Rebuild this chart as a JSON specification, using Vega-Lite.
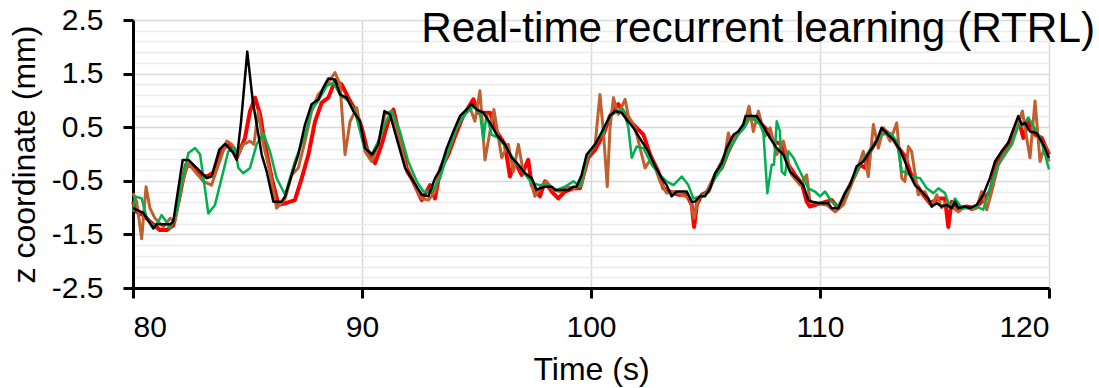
{
  "$schema": "https://vega.github.io/schema/vega-lite/v6.json",
  "width": 916,
  "height": 268,
  "autosize": {"type": "none"},
  "padding": {"left": 133, "top": 20, "right": 50, "bottom": 100},
  "background": "white",
  "config": {"view": {"stroke": null}, "font": "Liberation Sans"},
  "title": {"text": "Real-time recurrent learning (RTRL)", "anchor": "end", "frame": "group", "fontSize": 42.3, "fontWeight": "normal", "color": "black", "dx": 46, "dy": 50},
  "datasets": {
    "red": [
      {"t":80.0,"v":-0.89},{"t":80.16,"v":-1.08},{"t":80.45,"v":-1.14},{"t":80.74,"v":-1.26},{"t":81.18,"v":-1.42},{"t":81.47,"v":-1.42},{"t":81.76,"v":-1.33},{"t":82.05,"v":-0.76},{"t":82.31,"v":-0.2},{"t":82.56,"v":-0.23},{"t":82.93,"v":-0.39},{"t":83.22,"v":-0.42},{"t":83.58,"v":-0.33},{"t":83.87,"v":0.05},{"t":84.16,"v":0.21},{"t":84.53,"v":-0.07},{"t":84.89,"v":0.3},{"t":85.11,"v":0.8},{"t":85.33,"v":1.05},{"t":85.55,"v":0.74},{"t":85.76,"v":0.18},{"t":86.06,"v":-0.45},{"t":86.35,"v":-0.95},{"t":86.64,"v":-0.92},
      {"t":87.07,"v":-0.86},{"t":87.37,"v":-0.45},{"t":87.66,"v":-0.01},{"t":87.95,"v":0.61},{"t":88.24,"v":0.96},{"t":88.53,"v":1.05},{"t":88.82,"v":1.36},{"t":89.11,"v":1.3},{"t":89.4,"v":1.05},{"t":89.69,"v":0.83},{"t":89.99,"v":0.49},{"t":90.28,"v":-0.01},{"t":90.57,"v":-0.17},{"t":90.86,"v":0.18},{"t":91.15,"v":0.61},{"t":91.37,"v":0.83},{"t":91.66,"v":0.3},{"t":91.95,"v":-0.26},{"t":92.31,"v":-0.58},{"t":92.61,"v":-0.86},{"t":92.97,"v":-0.58},{"t":93.19,"v":-0.83},
      {"t":93.41,"v":-0.3},{"t":93.77,"v":-0.01},{"t":94.06,"v":0.33},{"t":94.42,"v":0.71},{"t":94.86,"v":1.02},{"t":95.08,"v":0.77},{"t":95.3,"v":0.77},{"t":95.59,"v":0.77},{"t":95.88,"v":0.42},{"t":96.24,"v":0.18},{"t":96.46,"v":-0.42},{"t":96.68,"v":-0.14},{"t":96.97,"v":-0.39},{"t":97.26,"v":-0.11},{"t":97.41,"v":-0.58},{"t":97.77,"v":-0.79},{"t":97.99,"v":-0.51},{"t":98.28,"v":-0.7},{"t":98.57,"v":-0.83},{"t":98.86,"v":-0.7},{"t":99.23,"v":-0.64},{"t":99.52,"v":-0.64},{"t":99.88,"v":-0.07},
      {"t":100.18,"v":0.08},{"t":100.54,"v":0.36},{"t":100.83,"v":0.71},{"t":101.19,"v":0.93},{"t":101.49,"v":0.74},{"t":101.78,"v":0.58},{"t":102.29,"v":0.36},{"t":102.58,"v":-0.01},{"t":102.94,"v":-0.33},{"t":103.16,"v":-0.64},{"t":103.45,"v":-0.7},{"t":103.81,"v":-0.76},{"t":104.18,"v":-0.76},{"t":104.4,"v":-0.95},{"t":104.5,"v":-1.36},{"t":104.62,"v":-0.95},{"t":104.83,"v":-0.76},{"t":105.12,"v":-0.7},{"t":105.42,"v":-0.39},{"t":105.71,"v":-0.26},{"t":106.0,"v":0.05},{"t":106.36,"v":0.36},{"t":106.65,"v":0.49},{"t":106.94,"v":0.71},
      {"t":107.31,"v":0.61},{"t":107.67,"v":0.46},{"t":107.96,"v":0.24},{"t":108.33,"v":0.18},{"t":108.62,"v":-0.2},{"t":108.91,"v":-0.39},{"t":109.2,"v":-0.54},{"t":109.42,"v":-0.89},{"t":109.56,"v":-0.98},{"t":110.0,"v":-0.92},{"t":110.51,"v":-0.86},{"t":110.8,"v":-1.01},{"t":111.16,"v":-0.7},{"t":111.46,"v":-0.45},{"t":111.75,"v":-0.2},{"t":111.97,"v":-0.26},{"t":112.18,"v":0.05},{"t":112.47,"v":0.24},{"t":112.77,"v":0.46},{"t":113.13,"v":0.33},{"t":113.49,"v":0.08},{"t":113.71,"v":-0.04},
      {"t":113.93,"v":-0.33},{"t":114.22,"v":-0.58},{"t":114.51,"v":-0.76},{"t":114.8,"v":-0.92},{"t":115.17,"v":-0.83},{"t":115.46,"v":-0.83},{"t":115.6,"v":-1.36},{"t":115.75,"v":-0.89},{"t":116.04,"v":-1.01},{"t":116.41,"v":-0.98},{"t":116.77,"v":-1.01},{"t":117.13,"v":-0.86},{"t":117.42,"v":-0.7},{"t":117.71,"v":-0.2},{"t":118.01,"v":0.05},{"t":118.3,"v":0.24},{"t":118.52,"v":0.49},{"t":118.73,"v":0.55},{"t":118.88,"v":0.3},{"t":119.1,"v":0.61},{"t":119.39,"v":0.36},{"t":119.68,"v":0.3},{"t":120.0,"v":-0.01}
    ],
    "brown": [
      {"t":80.0,"v":-0.73},{"t":80.16,"v":-0.89},{"t":80.38,"v":-1.58},{"t":80.57,"v":-0.61},{"t":80.74,"v":-1.01},{"t":80.96,"v":-1.2},{"t":81.33,"v":-1.36},{"t":81.62,"v":-1.2},{"t":81.83,"v":-1.26},{"t":82.13,"v":-0.58},{"t":82.42,"v":-0.17},{"t":82.71,"v":-0.33},{"t":83.07,"v":-0.51},{"t":83.43,"v":-0.58},{"t":83.73,"v":-0.2},{"t":84.09,"v":0.24},{"t":84.31,"v":0.18},{"t":84.6,"v":-0.01},{"t":84.82,"v":0.18},{"t":85.11,"v":0.24},{"t":85.28,"v":0.18},{"t":85.47,"v":0.8},{"t":85.69,"v":0.18},{"t":85.98,"v":-0.33},{"t":86.27,"v":-1.01},{"t":86.64,"v":-0.84},
      {"t":86.93,"v":-0.39},{"t":87.22,"v":-0.26},{"t":87.51,"v":0.24},{"t":87.8,"v":0.8},{"t":88.09,"v":1.11},{"t":88.38,"v":1.24},{"t":88.82,"v":1.52},{"t":89.04,"v":1.3},{"t":89.26,"v":-0.01},{"t":89.48,"v":0.61},{"t":89.77,"v":0.86},{"t":90.13,"v":0.05},{"t":90.42,"v":-0.14},{"t":90.71,"v":0.18},{"t":91.0,"v":0.74},{"t":91.3,"v":0.8},{"t":91.66,"v":0.24},{"t":91.95,"v":-0.33},{"t":92.31,"v":-0.58},{"t":92.61,"v":-0.83},{"t":92.9,"v":-0.86},{"t":93.19,"v":-0.7},
      {"t":93.41,"v":-0.25},{"t":93.77,"v":0.05},{"t":94.13,"v":0.49},{"t":94.42,"v":0.74},{"t":94.72,"v":0.86},{"t":94.93,"v":0.61},{"t":95.15,"v":1.18},{"t":95.37,"v":-0.11},{"t":95.59,"v":0.42},{"t":95.76,"v":0.83},{"t":96.1,"v":-0.07},{"t":96.39,"v":0.18},{"t":96.61,"v":-0.33},{"t":96.83,"v":0.18},{"t":97.04,"v":-0.33},{"t":97.34,"v":-0.45},{"t":97.55,"v":-0.79},{"t":97.85,"v":-0.58},{"t":98.06,"v":-0.51},{"t":98.35,"v":-0.67},{"t":98.65,"v":-0.7},{"t":98.94,"v":-0.61},{"t":99.23,"v":-0.64},{"t":99.59,"v":-0.58},{"t":99.88,"v":-0.01},
      {"t":100.18,"v":0.17},{"t":100.39,"v":1.11},{"t":100.54,"v":0.42},{"t":100.71,"v":-0.61},{"t":100.83,"v":0.49},{"t":100.98,"v":1.05},{"t":101.19,"v":0.74},{"t":101.49,"v":1.02},{"t":101.63,"v":0.71},{"t":101.92,"v":0.49},{"t":102.36,"v":-0.26},{"t":102.65,"v":-0.07},{"t":103.01,"v":-0.51},{"t":103.3,"v":-0.73},{"t":103.67,"v":-0.7},{"t":103.96,"v":-0.76},{"t":104.32,"v":-0.83},{"t":104.5,"v":-1.2},{"t":104.69,"v":-0.83},{"t":104.98,"v":-0.76},{"t":105.27,"v":-0.51},{"t":105.56,"v":-0.26},{"t":105.85,"v":-0.01},{"t":106.0,"v":0.39},{"t":106.14,"v":0.18},{"t":106.43,"v":0.39},{"t":106.73,"v":0.61},{"t":106.9,"v":0.89},
      {"t":107.09,"v":0.42},{"t":107.31,"v":0.8},{"t":107.6,"v":0.33},{"t":107.82,"v":0.49},{"t":108.11,"v":-0.01},{"t":108.4,"v":0.24},{"t":108.76,"v":-0.39},{"t":109.13,"v":-0.58},{"t":109.42,"v":-0.39},{"t":109.56,"v":-0.89},{"t":109.85,"v":-0.92},{"t":110.29,"v":-0.95},{"t":110.66,"v":-1.08},{"t":111.02,"v":-0.95},{"t":111.31,"v":-0.64},{"t":111.6,"v":-0.33},{"t":111.89,"v":0.05},{"t":112.11,"v":-0.42},{"t":112.33,"v":0.55},{"t":112.55,"v":0.11},{"t":112.77,"v":0.49},{"t":113.06,"v":0.24},{"t":113.35,"v":0.58},{"t":113.57,"v":-0.45},{"t":113.71,"v":-0.51},
      {"t":113.86,"v":0.14},{"t":114.0,"v":0.05},{"t":114.29,"v":-0.76},{"t":114.58,"v":-0.7},{"t":114.88,"v":-0.98},{"t":115.1,"v":-0.76},{"t":115.31,"v":-1.0},{"t":115.53,"v":-0.89},{"t":115.82,"v":-1.01},{"t":116.04,"v":-1.08},{"t":116.33,"v":-0.98},{"t":116.62,"v":-1.04},{"t":116.84,"v":-1.01},{"t":117.06,"v":-0.7},{"t":117.28,"v":-1.04},{"t":117.5,"v":-0.7},{"t":117.79,"v":-0.2},{"t":118.08,"v":-0.01},{"t":118.37,"v":0.18},{"t":118.66,"v":0.58},{"t":118.84,"v":0.8},{"t":118.95,"v":0.49},{"t":119.17,"v":-0.07},{"t":119.39,"v":0.99},{"t":119.61,"v":-0.14},{"t":119.83,"v":0.18},{"t":120.0,"v":-0.14}
    ],
    "green": [
      {"t":80.0,"v":-1.08},{"t":80.09,"v":-0.79},{"t":80.38,"v":-0.83},{"t":80.6,"v":-1.2},{"t":80.89,"v":-1.36},{"t":81.11,"v":-1.26},{"t":81.25,"v":-1.14},{"t":81.4,"v":-1.23},{"t":81.62,"v":-1.39},{"t":81.91,"v":-1.08},{"t":82.2,"v":-0.39},{"t":82.42,"v":0.02},{"t":82.71,"v":0.11},{"t":82.93,"v":-0.01},{"t":83.14,"v":-0.64},{"t":83.29,"v":-1.11},{"t":83.58,"v":-0.95},{"t":83.87,"v":-0.45},{"t":84.16,"v":0.05},{"t":84.45,"v":0.11},{"t":84.6,"v":-0.26},{"t":84.82,"v":-0.36},{"t":85.11,"v":-0.26},{"t":85.4,"v":0.18},{"t":85.69,"v":0.39},{"t":85.98,"v":0.05},{"t":86.27,"v":-0.45},{"t":86.64,"v":-0.76},
      {"t":87.07,"v":-0.14},{"t":87.51,"v":0.36},{"t":87.8,"v":0.83},{"t":88.09,"v":0.99},{"t":88.46,"v":1.27},{"t":88.75,"v":1.33},{"t":89.04,"v":1.11},{"t":89.4,"v":0.99},{"t":89.69,"v":0.8},{"t":90.06,"v":0.18},{"t":90.42,"v":-0.01},{"t":90.79,"v":0.3},{"t":91.08,"v":0.64},{"t":91.3,"v":0.8},{"t":91.66,"v":0.42},{"t":92.02,"v":-0.14},{"t":92.39,"v":-0.51},{"t":92.68,"v":-0.7},{"t":93.04,"v":-0.7},{"t":93.41,"v":-0.45},
      {"t":93.77,"v":0.05},{"t":94.13,"v":0.49},{"t":94.5,"v":0.74},{"t":94.86,"v":0.89},{"t":95.15,"v":0.77},{"t":95.3,"v":0.27},{"t":95.44,"v":0.74},{"t":95.66,"v":0.36},{"t":95.95,"v":0.3},{"t":96.32,"v":0.11},{"t":96.68,"v":-0.14},{"t":97.04,"v":-0.33},{"t":97.41,"v":-0.54},{"t":97.77,"v":-0.58},{"t":98.14,"v":-0.58},{"t":98.5,"v":-0.67},{"t":98.86,"v":-0.61},{"t":99.23,"v":-0.51},{"t":99.52,"v":-0.61},{"t":99.81,"v":-0.07},{"t":100.18,"v":0.18},
      {"t":100.54,"v":0.42},{"t":100.83,"v":0.71},{"t":101.19,"v":0.8},{"t":101.41,"v":0.83},{"t":101.63,"v":0.49},{"t":101.78,"v":-0.07},{"t":101.99,"v":0.14},{"t":102.29,"v":0.11},{"t":102.65,"v":-0.2},{"t":103.01,"v":-0.39},{"t":103.3,"v":-0.51},{"t":103.6,"v":-0.58},{"t":103.96,"v":-0.42},{"t":104.25,"v":-0.58},{"t":104.47,"v":-0.83},{"t":104.76,"v":-0.79},{"t":105.05,"v":-0.73},{"t":105.34,"v":-0.51},{"t":105.71,"v":-0.26},{"t":106.07,"v":0.11},{"t":106.43,"v":0.36},{"t":106.73,"v":0.52},{"t":106.94,"v":0.72},
      {"t":107.38,"v":0.55},{"t":107.53,"v":0.39},{"t":107.7,"v":-0.73},{"t":107.89,"v":-0.2},{"t":107.99,"v":-0.2},{"t":108.11,"v":0.61},{"t":108.25,"v":0.42},{"t":108.33,"v":-0.33},{"t":108.47,"v":-0.39},{"t":108.62,"v":0.05},{"t":108.84,"v":-0.07},{"t":109.05,"v":-0.26},{"t":109.27,"v":-0.45},{"t":109.49,"v":-0.64},{"t":109.78,"v":-0.7},{"t":110.0,"v":-0.79},{"t":110.22,"v":-0.7},{"t":110.51,"v":-0.89},{"t":110.8,"v":-0.98},{"t":111.09,"v":-0.76},{"t":111.38,"v":-0.51},{"t":111.67,"v":-0.26},{"t":112.04,"v":-0.01},{"t":112.4,"v":0.21},{"t":112.69,"v":0.36},{"t":113.06,"v":0.39},{"t":113.35,"v":0.24},{"t":113.57,"v":-0.33},{"t":113.71,"v":-0.33},
      {"t":114.0,"v":-0.42},{"t":114.37,"v":-0.45},{"t":114.66,"v":-0.64},{"t":114.95,"v":-0.73},{"t":115.17,"v":-0.64},{"t":115.46,"v":-0.73},{"t":115.68,"v":-1.01},{"t":115.9,"v":-0.83},{"t":116.19,"v":-1.01},{"t":116.55,"v":-1.01},{"t":116.84,"v":-0.98},{"t":117.13,"v":-1.04},{"t":117.42,"v":-0.64},{"t":117.72,"v":-0.26},{"t":118.01,"v":-0.01},{"t":118.37,"v":0.18},{"t":118.66,"v":0.52},{"t":118.88,"v":0.55},{"t":119.1,"v":0.68},{"t":119.32,"v":0.52},{"t":119.61,"v":0.3},{"t":119.83,"v":-0.01},{"t":120.0,"v":-0.29}
    ],
    "black": [
      {"t":80.0,"v":-1.01},{"t":80.45,"v":-1.1},{"t":80.89,"v":-1.39},{"t":81.03,"v":-1.31},{"t":81.62,"v":-1.31},{"t":81.76,"v":-1.26},{"t":82.17,"v":-0.11},{"t":82.42,"v":-0.11},{"t":82.78,"v":-0.26},{"t":83.22,"v":-0.45},{"t":83.43,"v":-0.42},{"t":83.77,"v":0.08},{"t":84.02,"v":0.19},{"t":84.38,"v":0.02},{"t":84.53,"v":-0.11},{"t":84.72,"v":0.61},{"t":84.99,"v":1.91},{"t":85.23,"v":0.99},{"t":85.62,"v":-0.01},{"t":85.84,"v":-0.33},{"t":86.13,"v":-0.89},{"t":86.49,"v":-0.89},
      {"t":86.64,"v":-0.79},{"t":86.93,"v":-0.39},{"t":87.22,"v":-0.01},{"t":87.51,"v":0.55},{"t":87.8,"v":0.93},{"t":88.1,"v":1.02},{"t":88.31,"v":1.24},{"t":88.53,"v":1.41},{"t":88.82,"v":1.39},{"t":89.04,"v":1.11},{"t":89.33,"v":1.05},{"t":89.62,"v":0.8},{"t":89.91,"v":0.61},{"t":90.13,"v":0.11},{"t":90.45,"v":-0.01},{"t":90.71,"v":0.18},{"t":90.98,"v":0.8},{"t":91.22,"v":0.74},{"t":91.59,"v":0.18},{"t":91.88,"v":-0.26},{"t":92.24,"v":-0.51},{"t":92.61,"v":-0.76},{"t":92.9,"v":-0.79},{"t":93.19,"v":-0.45},
      {"t":93.41,"v":-0.29},{"t":93.7,"v":0.11},{"t":93.99,"v":0.42},{"t":94.28,"v":0.71},{"t":94.57,"v":0.83},{"t":94.79,"v":0.93},{"t":95.01,"v":0.83},{"t":95.3,"v":0.77},{"t":95.59,"v":0.58},{"t":95.88,"v":0.36},{"t":96.24,"v":0.18},{"t":96.54,"v":-0.07},{"t":96.83,"v":-0.2},{"t":97.12,"v":-0.36},{"t":97.41,"v":-0.45},{"t":97.63,"v":-0.67},{"t":97.77,"v":-0.64},{"t":97.99,"v":-0.61},{"t":98.28,"v":-0.61},{"t":98.43,"v":-0.67},{"t":98.72,"v":-0.67},{"t":99.01,"v":-0.67},{"t":99.23,"v":-0.61},{"t":99.37,"v":-0.61},{"t":99.59,"v":-0.39},{"t":99.81,"v":-0.01},
      {"t":100.18,"v":0.18},{"t":100.47,"v":0.41},{"t":100.83,"v":0.71},{"t":101.05,"v":0.8},{"t":101.34,"v":0.77},{"t":101.56,"v":0.64},{"t":101.85,"v":0.49},{"t":102.21,"v":0.24},{"t":102.5,"v":0.05},{"t":102.8,"v":-0.23},{"t":103.09,"v":-0.45},{"t":103.3,"v":-0.58},{"t":103.52,"v":-0.79},{"t":103.74,"v":-0.7},{"t":104.18,"v":-0.7},{"t":104.4,"v":-0.89},{"t":104.54,"v":-0.89},{"t":104.76,"v":-0.79},{"t":104.98,"v":-0.79},{"t":105.2,"v":-0.64},{"t":105.42,"v":-0.36},{"t":105.71,"v":-0.17},{"t":105.92,"v":0.11},{"t":106.22,"v":0.36},{"t":106.43,"v":0.42},{"t":106.65,"v":0.55},{"t":106.75,"v":0.71},
      {"t":106.94,"v":0.71},{"t":107.23,"v":0.71},{"t":107.52,"v":0.52},{"t":107.81,"v":0.3},{"t":108.11,"v":0.11},{"t":108.4,"v":-0.01},{"t":108.69,"v":-0.33},{"t":108.98,"v":-0.45},{"t":109.27,"v":-0.58},{"t":109.49,"v":-0.86},{"t":109.64,"v":-0.89},{"t":110.0,"v":-0.92},{"t":110.36,"v":-0.92},{"t":110.51,"v":-1.01},{"t":110.8,"v":-1.01},{"t":111.09,"v":-0.73},{"t":111.31,"v":-0.58},{"t":111.6,"v":-0.23},{"t":111.89,"v":-0.14},{"t":112.18,"v":0.05},{"t":112.47,"v":0.24},{"t":112.69,"v":0.49},{"t":112.91,"v":0.39},{"t":113.2,"v":0.27},{"t":113.49,"v":0.08},
      {"t":113.71,"v":-0.14},{"t":113.93,"v":-0.39},{"t":114.15,"v":-0.58},{"t":114.44,"v":-0.7},{"t":114.73,"v":-0.83},{"t":114.88,"v":-0.98},{"t":115.1,"v":-0.92},{"t":115.31,"v":-0.98},{"t":115.53,"v":-0.95},{"t":115.75,"v":-1.01},{"t":115.9,"v":-0.89},{"t":116.04,"v":-1.01},{"t":116.33,"v":-0.98},{"t":116.55,"v":-1.01},{"t":116.84,"v":-0.95},{"t":117.13,"v":-0.76},{"t":117.42,"v":-0.45},{"t":117.64,"v":-0.14},{"t":117.93,"v":0.05},{"t":118.22,"v":0.21},{"t":118.44,"v":0.46},{"t":118.66,"v":0.71},{"t":118.81,"v":0.55},{"t":118.95,"v":0.58},{"t":119.17,"v":0.42},{"t":119.46,"v":0.39},{"t":119.75,"v":0.18},{"t":120.0,"v":-0.07}
    ]
  },
  "encoding": {
    "x": {
      "field": "t", "type": "quantitative",
      "scale": {"domain": [80, 120], "nice": false, "zero": false},
      "axis": {
        "title": "Time (s)", "values": [80, 90, 100, 110, 120], "format": "d",
        "labelFontSize": 30, "labelColor": "black", "labelPadding": 14,
        "titleFontSize": 32, "titleFontWeight": "normal", "titleColor": "black", "titlePadding": 12,
        "domainColor": "black", "domainWidth": 3, "tickColor": "black", "tickWidth": 3, "tickSize": 10,
        "gridColor": "#d9d9d9", "gridWidth": 1.5
      }
    },
    "y": {
      "field": "v", "type": "quantitative",
      "scale": {"domain": [-2.5, 2.5], "nice": false, "zero": false},
      "axis": {
        "title": "z coordinate (mm)",
        "values": [-2.5, -2.3, -2.1, -1.9, -1.7, -1.5, -1.3, -1.1, -0.9, -0.7, -0.5, -0.3, -0.1, 0.1, 0.3, 0.5, 0.7, 0.9, 1.1, 1.3, 1.5, 1.7, 1.9, 2.1, 2.3, 2.5],
        "labelExpr": "abs(round(datum.value*10)) % 10 == 5 ? '' + datum.value : ''",
        "labelFontSize": 30, "labelColor": "black", "labelPadding": 20,
        "titleFontSize": 32, "titleFontWeight": "normal", "titleColor": "black", "titlePadding": 10,
        "domainColor": "black", "domainWidth": 3, "tickColor": "black", "tickWidth": 3, "tickSize": 10,
        "tickOpacity": {"condition": {"test": "abs(round(datum.value*10)) % 10 == 5", "value": 1}, "value": 0},
        "gridColor": {"condition": {"test": "abs(round(datum.value*10)) % 10 == 5", "value": "#d9d9d9"}, "value": "#ebebeb"},
        "gridWidth": 1.5
      }
    }
  },
  "layer": [
    {"data": {"name": "red"}, "mark": {"type": "line", "color": "#ff0000", "strokeWidth": 4, "strokeJoin": "round"}},
    {"data": {"name": "brown"}, "mark": {"type": "line", "color": "#c0602e", "strokeWidth": 3, "strokeJoin": "round"}},
    {"data": {"name": "green"}, "mark": {"type": "line", "color": "#00b050", "strokeWidth": 2.5, "strokeJoin": "round"}},
    {"data": {"name": "black"}, "mark": {"type": "line", "color": "#000000", "strokeWidth": 2.5, "strokeJoin": "round"}}
  ]
}
